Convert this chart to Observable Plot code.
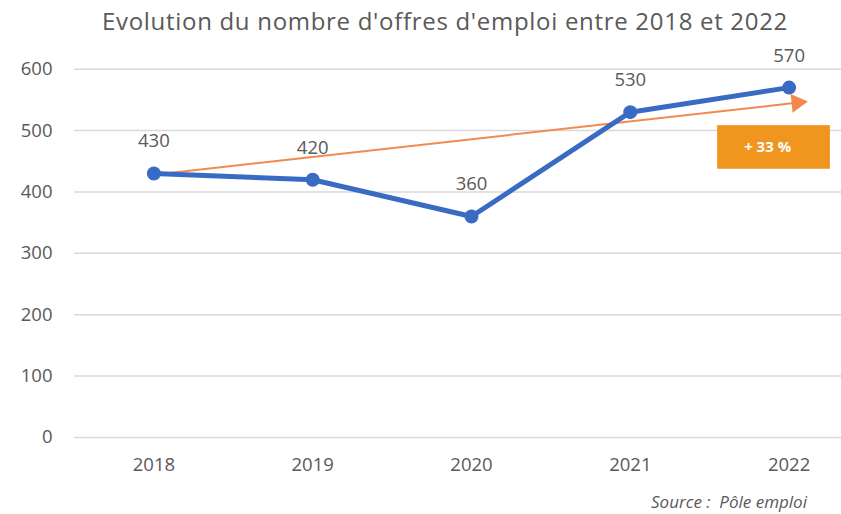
<!DOCTYPE html>
<html><head><meta charset="utf-8">
<script src="https://cdn.jsdelivr.net/npm/d3@7"></script>
<script src="https://cdn.jsdelivr.net/npm/@observablehq/plot@0.6"></script>
<style>
body{margin:0;background:#fff;font-family:"Open Sans",sans-serif;}
#wrap{position:relative;width:841px;height:514px;overflow:hidden;}
#title{position:absolute;left:0;width:890px;top:3.5px;text-align:center;font-size:24px;color:#595959;letter-spacing:0.7px;white-space:nowrap;}
#source{position:absolute;right:34px;top:490px;font-size:17px;font-style:italic;color:#595959;white-space:nowrap;}
#chart{position:absolute;left:0;top:0;}
</style></head>
<body><div id="wrap"><div id="chart"></div>
<div id="title">Evolution du nombre d'offres d'emploi entre 2018 et 2022</div>
<div id="source">Source :&nbsp; Pôle emploi</div></div>
<script>
const years = [2018, 2019, 2020, 2021, 2022];
const offres = [430, 420, 360, 530, 570];
const yTicks = [0, 100, 200, 300, 400, 500, 600];
const trendX = [2018, 2022.07];
const trendY = [428, 546];
const badgeX = [2021.55, 2022.26];
const badgeY = [437, 508];
const badgeLabel = "+ 33 %";

const data = years.map((y, i) => ({year: y, value: offres[i]}));
const trend = [{x1: trendX[0], y1: trendY[0], x2: trendX[1], y2: trendY[1]}];
const badge = [{x1: badgeX[0], x2: badgeX[1], y1: badgeY[0], y2: badgeY[1], label: badgeLabel}];
const grey = "#595959";

const chart = Plot.plot({
  width: 841, height: 514,
  marginLeft: 74, marginRight: 0, marginTop: 40, marginBottom: 77,
  style: {fontFamily: "Open Sans, sans-serif", color: grey, background: "#fff"},
  x: {domain: [2017.5, 2022.5], range: [74, 868], label: null},
  y: {domain: [0, 600], range: [437, 68.7], label: null},
  marks: [
    Plot.ruleY(yTicks, {stroke: "#d9d9d9", strokeWidth: 1.5}),
    Plot.axisY({ticks: yTicks, tickSize: 0, tickPadding: 22, fontSize: 18.5, tickFormat: d => String(d), label: null, fill: grey}),
    Plot.axisX({ticks: years, tickSize: 0, tickPadding: 20, fontSize: 18.5, tickFormat: d => String(d), label: null, fill: grey}),
    Plot.link(trend, {x1: "x1", y1: "y1", x2: d => d.x2 - 0.04, y2: d => d.y2 - 1.2, stroke: "#F28A4E", strokeWidth: 2}),
    Plot.dot(trend, {x: d => d.x2 - 0.02, y: d => d.y2 - 0.6, symbol: "triangle", r: 7, fill: "#F28A4E", stroke: "none", rotate: 84}),
    Plot.line(data, {x: "year", y: "value", stroke: "#3A6BC4", strokeWidth: 5, strokeLinejoin: "round"}),
    Plot.dot(data, {x: "year", y: "value", r: 7, fill: "#3A6BC4"}),
    Plot.text(data, {x: "year", y: "value", text: d => String(d.value), dy: -32, fontSize: 18.5, fill: grey}),
    Plot.rect(badge, {x1: "x1", x2: "x2", y1: "y1", y2: "y2", fill: "#F0961E"}),
    Plot.text(badge, {x: d => (d.x1 + d.x2) / 2 - 0.04, y: d => (d.y1 + d.y2) / 2, text: "label", fill: "#fff", fontSize: 15, fontWeight: "bold"})
  ]
});
document.getElementById("chart").appendChild(chart);
</script></body></html>
